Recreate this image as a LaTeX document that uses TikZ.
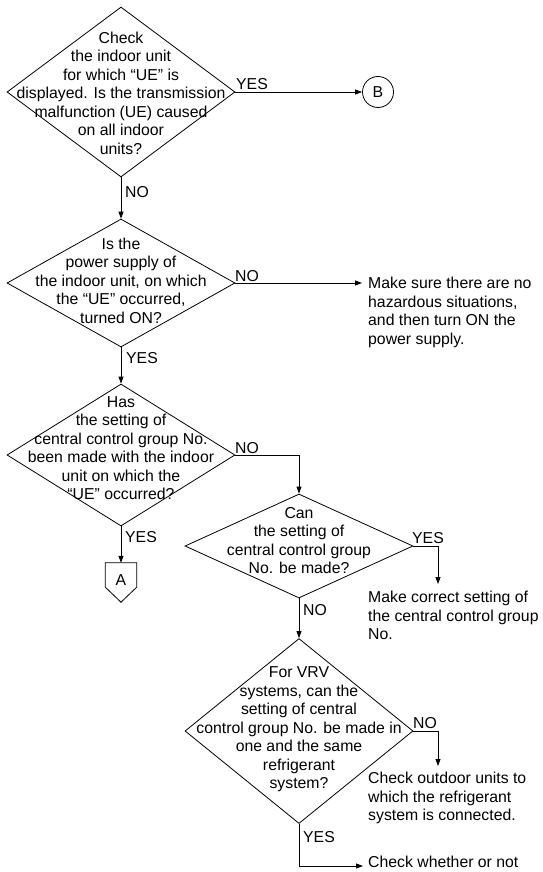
\documentclass[tikz,border=0pt]{standalone}
\usepackage{fontspec}
\setmainfont{Liberation Sans}
\usetikzlibrary{shapes.geometric,arrows.meta,calc}
\begin{document}
\begin{tikzpicture}[x=1pt,y=-1pt,
  every node/.style={font=\fontsize{15.8}{18.5}\selectfont},
  dia/.style={diamond,draw,line width=0.8pt,inner sep=0pt,minimum width=228pt},
  qtext/.style={align=center,inner sep=0pt},
  rtext/.style={align=left,inner sep=0pt,anchor=north west},
  lab/.style={inner sep=0pt,anchor=base west},
  conn/.style={line width=0.8pt,-{Triangle[length=7pt,width=5pt]}},
  plain/.style={line width=0.8pt}]
\useasboundingbox[fill=white] (0,0) rectangle (542,872);
% diamond 1
\node[dia,minimum height=170pt] (d1) at (121,92) {};
\node[qtext] (t1) at (121,93) {Check\\the indoor unit\\for which “UE” is\\displayed. Is the transmission\\malfunction (UE) caused\\on all indoor\\units?};
\node[circle,draw,line width=0.8pt,minimum size=31pt,inner sep=0pt] (B) at (378,92) {B};
% diamond 2
\node[dia,minimum height=128pt] (d2) at (121,283) {};
\node[qtext] (t2) at (121,280.5) {Is the\\power supply of\\the indoor unit, on which\\the “UE” occurred,\\turned ON?};
\node[rtext] (r2) at (368,277) {Make sure there are no\\hazardous situations,\\and then turn ON the\\power supply.};
% diamond 3
\node[dia,minimum height=142pt] (d3) at (121,455) {};
\node[qtext] (t3) at (121,448) {Has\\the setting of\\central control group No.\\been made with the indoor\\unit on which the\\“UE” occurred?};
\node[minimum width=31pt,minimum height=24pt,inner sep=0pt] (A) at (121,575) {};
\draw[plain] (A.north west) -- (A.north east) -- (A.south east) -- ($(A.south)+(0,15)$) -- (A.south west) -- cycle;
\node[inner sep=0pt] (Al) at (121,580) {A};
% diamond 4
\node[dia,minimum height=104pt] (d4) at (299,546) {};
\node[qtext] (t4) at (299,540.5) {Can\\the setting of\\central control group\\No. be made?};
\node[rtext] (r4) at (368,591) {Make correct setting of\\the central control group\\No.};
% diamond 5
\node[dia,minimum height=185pt] (d5) at (299,731) {};
\node[qtext] (t5) at (299,729.5) {For VRV\\systems, can the\\setting of central\\control group No. be made in\\one and the same\\refrigerant\\system?};
\node[rtext] (r5) at (368,772) {Check outdoor units to\\which the refrigerant\\system is connected.};
\node[rtext] (r6) at (368,856) {Check whether or not};
% coordinates
\coordinate (c4) at (438,584);
\coordinate (c5) at (438,766);
\coordinate (c6) at (363,866);
% connectors
\draw[conn] (d1.east) -- (B.west);
\draw[conn] (d1.south) -- (d2.north);
\draw[conn] (d2.east) -- ($(d2.east -| r2.west)+(-6,0)$);
\draw[conn] (d2.south) -- (d3.north);
\draw[conn] (d3.east) -| (d4.north);
\draw[conn] (d3.south) -- (A.north);
\draw[conn] (d4.east) -| (c4);
\draw[conn] (d4.south) -- (d5.north);
\draw[conn] (d5.east) -| (c5);
\draw[conn] (d5.south) |- (c6);
% labels
\node[lab] (l1) at (236,90) {YES};
\node[lab] (l2) at (125,197) {NO};
\node[lab] (l3) at (235,281) {NO};
\node[lab] (l4) at (126,363) {YES};
\node[lab] (l5) at (235,453) {NO};
\node[lab] (l6) at (125,542) {YES};
\node[lab] (l7) at (412,543) {YES};
\node[lab] (l8) at (303,615) {NO};
\node[lab] (l9) at (413,728) {NO};
\node[lab] (l10) at (303,842) {YES};
\end{tikzpicture}
\end{document}
